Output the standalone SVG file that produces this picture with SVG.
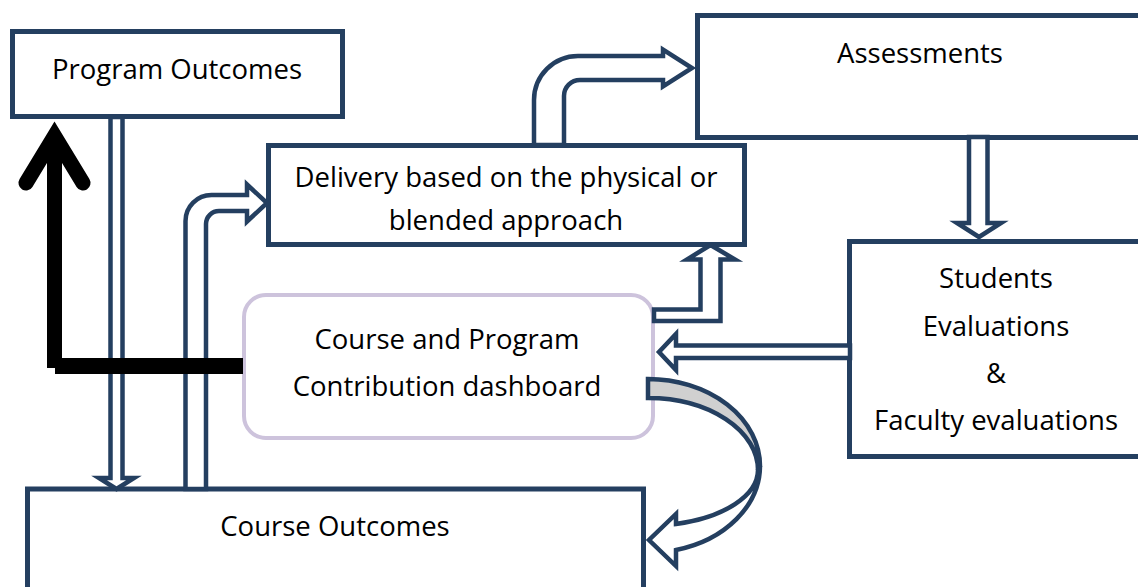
<svg xmlns="http://www.w3.org/2000/svg" width="1138" height="587" viewBox="0 0 1138 587">
  <style>
    .box{fill:#fff;stroke:#243f60;stroke-width:5}
    .dash{fill:#fff;stroke:#cdc3dc;stroke-width:4}
    .lbl{font-family:"Open Sans","Noto Sans","DejaVu Sans",sans-serif;font-size:27.5px;fill:#000;text-anchor:middle}
    .hollow{fill:#fff;stroke:#243f60;stroke-width:4.5;stroke-linejoin:miter}
    .band{fill:#d0d0d0;stroke:#243f60;stroke-width:4.5;stroke-linejoin:miter}
    .heavy{fill:#000}
  </style>
  <rect width="1138" height="587" fill="#fff"/>

  <!-- nodes -->
  <g id="program-outcomes">
    <rect class="box" x="12.5" y="31.5" width="330" height="85"/>
    <text class="lbl" x="177" y="79">Program Outcomes</text>
  </g>
  <g id="assessments">
    <rect class="box" x="697.5" y="15.5" width="500" height="122"/>
    <text class="lbl" x="920" y="63">Assessments</text>
  </g>
  <g id="delivery">
    <rect class="box" x="268.5" y="145.5" width="476" height="99"/>
    <text class="lbl" x="506" y="187">Delivery based on the physical or</text>
    <text class="lbl" x="506" y="230">blended approach</text>
  </g>
  <g id="evaluations">
    <rect class="box" x="849.5" y="241.5" width="400" height="215"/>
    <text class="lbl" x="996" y="288">Students</text>
    <text class="lbl" x="996" y="336">Evaluations</text>
    <text class="lbl" x="996" y="383">&amp;</text>
    <text class="lbl" x="996" y="430">Faculty evaluations</text>
  </g>
  <g id="dashboard">
    <rect class="dash" x="244" y="295" width="409" height="143" rx="22"/>
    <text class="lbl" x="447" y="349">Course and Program</text>
    <text class="lbl" x="447" y="396">Contribution dashboard</text>
  </g>
  <g id="course-outcomes">
    <rect class="box" x="27.5" y="489" width="616" height="150"/>
    <text class="lbl" x="335" y="536">Course Outcomes</text>
  </g>

  <!-- connectors -->
  <g id="connectors">
    <!-- program outcomes down to course outcomes -->
    <path class="hollow" d="M110.5,117 V478 H99 L116.5,489 L134,478 H122.5 V117 Z"/>
    <!-- course outcomes up and over to delivery -->
    <path class="hollow" d="M185.5,489 V221 A26,26 0 0 1 211.5,195 H247 V184.5 L267,203 L247,221.5 V211 H219 A13,13 0 0 0 206,224 V489 Z"/>
    <!-- delivery up and over to assessments -->
    <path class="hollow" d="M534,145 V100 A44,44 0 0 1 578,56 H663 V49.5 L692,68 L663,86.5 V80 H580 A16,16 0 0 0 564,96 V145 Z"/>
    <!-- assessments down to evaluations -->
    <path class="hollow" d="M969,137 V223 H957 L979,237 L1001,223 H987.5 V137 Z"/>
    <!-- dashboard over and up to delivery -->
    <path class="hollow" d="M654,309.5 H700.5 V259.5 H687 L710.5,245 L735,259.5 H720.5 V321 H654 Z"/>
    <!-- evaluations back to dashboard -->
    <path class="hollow" d="M850,345.5 H676 V334 L659,352 L676,370 V358 H850 Z"/>
    <!-- curved return from dashboard to course outcomes -->
    <path class="band" d="M648,379 A112,87 0 0 1 760,466 L758,470 A110,72 0 0 0 648,398 Z"/>
    <path class="hollow" d="M760,466 A112,87 0 0 1 676,550 L676,566 L649,540 L676,514 L676,524 A110,56 0 0 0 758,470 Z"/>
    <!-- heavy feedback arrow from dashboard to program outcomes -->
    <g id="feedback">
      <rect class="heavy" x="47" y="135" width="15" height="233"/>
      <rect class="heavy" x="55" y="358" width="188" height="16"/>
      <polyline points="26,183 54.5,136 83,183" fill="none" stroke="#000" stroke-width="15" stroke-linecap="round" stroke-linejoin="miter"/>
    </g>
  </g>
</svg>
